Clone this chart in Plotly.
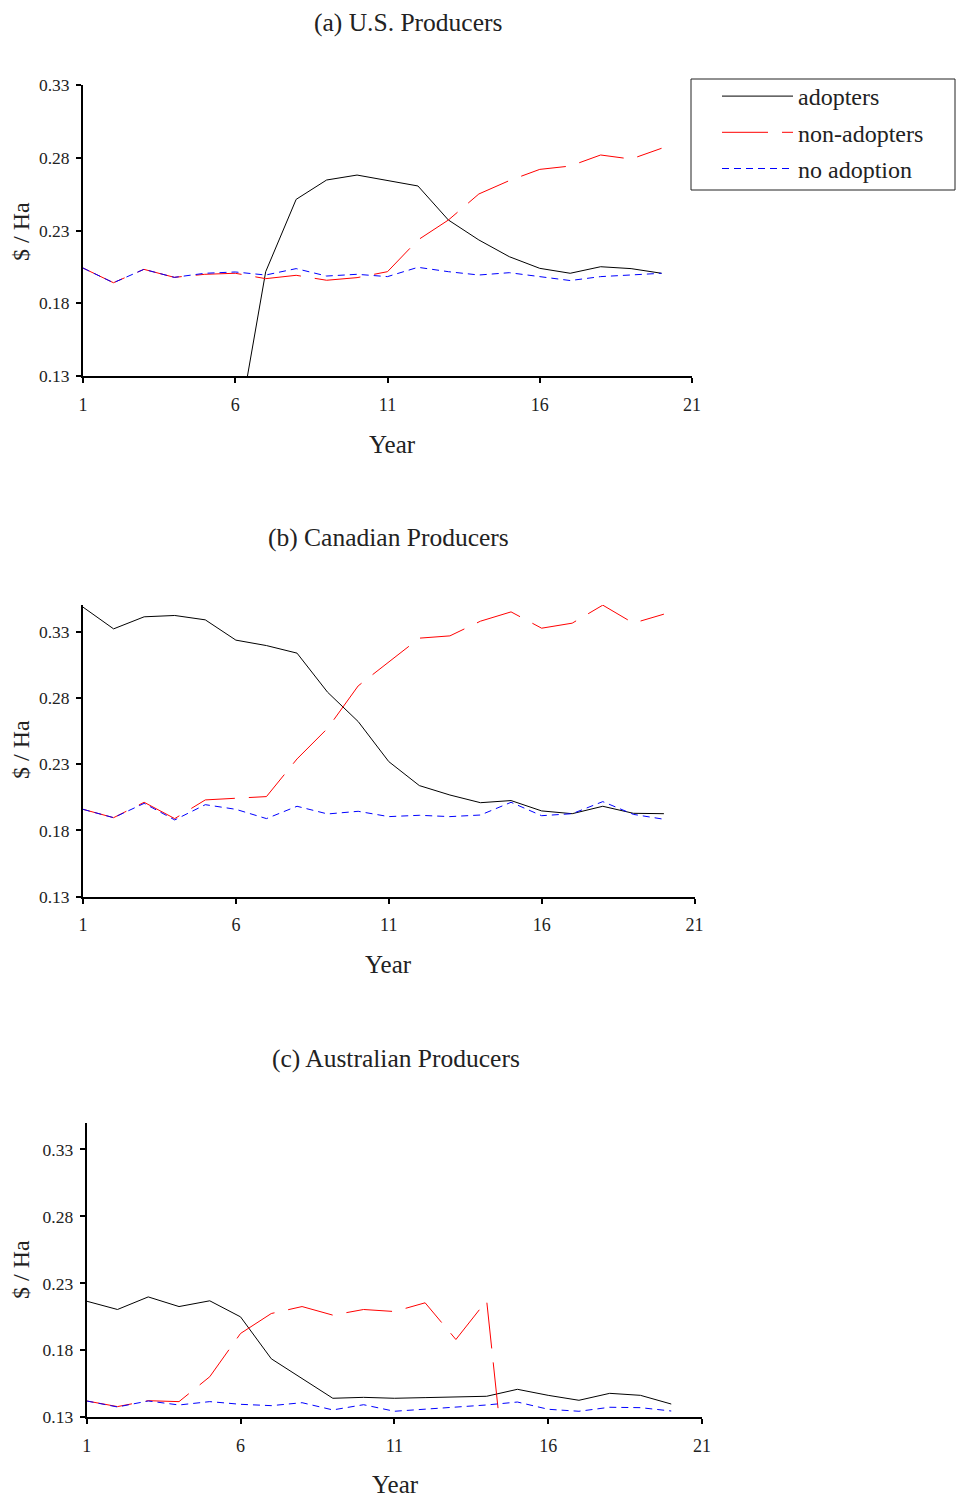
import plotly.graph_objects as go

years = list(range(1, 21))

# (a) U.S. Producers
us_adopters = [None, None, None, None, None, 0.082, 0.2017, 0.2514, 0.2647, 0.2681,
               0.2642, 0.2606, 0.2372, 0.2235, 0.2120, 0.2040, 0.2006, 0.2051, 0.2038, 0.2006]
us_non_adopters = [0.2042, 0.1941, 0.2033, 0.1978, 0.1999, 0.2006, 0.1969, 0.1992, 0.1958, 0.1976,
                   0.2017, 0.2235, 0.2372, 0.2551, 0.2643, 0.2720, 0.2743, 0.2819, 0.2791, 0.2865]
us_no_adoption = [0.2042, 0.1941, 0.2033, 0.1978, 0.2006, 0.2015, 0.1994, 0.2038, 0.1987, 0.1999,
                  0.1983, 0.2047, 0.2017, 0.1994, 0.2010, 0.1983, 0.1956, 0.1983, 0.1994, 0.2006]

# (b) Canadian Producers
ca_adopters = [0.3484, 0.3320, 0.3411, 0.3421, 0.3388, 0.3235, 0.3194, 0.3137, 0.2842, 0.2621,
               0.2319, 0.2138, 0.2067, 0.2009, 0.2025, 0.1947, 0.1926, 0.1982, 0.1929, 0.1926]
ca_non_adopters = [0.1959, 0.1896, 0.2012, 0.1889, 0.2030, 0.2040, 0.2055, 0.2339, 0.2570, 0.2890,
                   0.3070, 0.3250, 0.3267, 0.3378, 0.3448, 0.3325, 0.3363, 0.3499, 0.3363, 0.3431]
ca_no_adoption = [0.1959, 0.1896, 0.2004, 0.1879, 0.1994, 0.1959, 0.1889, 0.1982, 0.1924, 0.1944,
                  0.1904, 0.1914, 0.1904, 0.1916, 0.2012, 0.1911, 0.1926, 0.2017, 0.1921, 0.1884]

# (c) Australian Producers
au_adopters = [0.2167, 0.2105, 0.2199, 0.2127, 0.2170, 0.2050, 0.1737, 0.1591, 0.1442, 0.1449,
               0.1442, 0.1447, 0.1452, 0.1457, 0.1509, 0.1464, 0.1427, 0.1479, 0.1464, 0.1399]
au_non_adopters = [0.1422, 0.1380, 0.1424, 0.1417, 0.1603, 0.1926, 0.2075, 0.2127, 0.2063, 0.2105,
                   0.2090, 0.2155, 0.1881, 0.2172, 0.0, 0.0, 0.0, 0.0, 0.0, 0.0]
au_no_adoption = [0.1422, 0.1377, 0.1422, 0.1392, 0.1417, 0.1397, 0.1387, 0.1409, 0.1355, 0.1394,
                  0.1345, 0.1360, 0.1375, 0.1392, 0.1414, 0.1360, 0.1345, 0.1375, 0.1372, 0.1347]

series_names = ["adopters", "non-adopters", "no adoption"]
panel_titles = ["(a) U.S. Producers", "(b) Canadian Producers", "(c) Australian Producers"]
x_ticks = [1, 6, 11, 16, 21]
y_ticks = [0.13, 0.18, 0.23, 0.28, 0.33]

OFF = 8  # page body margin of the browser
W, H = 964 - 2 * OFF, 1510 - 2 * OFF
FONT = "Liberation Serif"
TXT = "#222222"


def px(v):
    return (v - OFF) / W


def py(v):
    return 1 - (v - OFF) / H


styles = [
    dict(color="#000000", width=1, dash="solid"),
    dict(color="#FF0000", width=1, dash="46px,14px"),
    dict(color="#0000FF", width=1, dash="7px,5px"),
]

panels = [
    dict(data=[us_adopters, us_non_adopters, us_no_adoption], xpx=(83, 692), ypx=(85, 376),
         yr=[0.13, 0.33], title_xy=(408, 22), year_xy=(392, 444), ylab_y=232),
    dict(data=[ca_adopters, ca_non_adopters, ca_no_adoption], xpx=(83, 694.5), ypx=(605, 896.7),
         yr=[0.13, 0.35], title_xy=(388, 537), year_xy=(388, 964), ylab_y=750),
    dict(data=[au_adopters, au_non_adopters, au_no_adoption], xpx=(86.7, 702), ypx=(1122.7, 1417.3),
         yr=[0.13, 0.35], title_xy=(396, 1058), year_xy=(395, 1484), ylab_y=1270),
]

fig = go.Figure()
annotations = []
layout_axes = {}
for i, p in enumerate(panels):
    sfx = "" if i == 0 else str(i + 1)
    for j, (vals, st) in enumerate(zip(p["data"], styles)):
        fig.add_trace(go.Scatter(
            x=years, y=vals, mode="lines", name=series_names[j],
            line=st, xaxis="x" + sfx, yaxis="y" + sfx,
            showlegend=(i == 0), legendgroup=series_names[j],
        ))
    x0, x1 = p["xpx"]
    yt, yb = p["ypx"]
    layout_axes["xaxis" + sfx] = dict(
        domain=[px(x0), px(x1)], anchor="y" + sfx, range=[1, 21],
        tickvals=x_ticks, showgrid=False, zeroline=False, automargin=False,
        showline=True, linecolor="black", linewidth=2,
        ticks="outside", ticklen=5, tickwidth=2, tickcolor="black",
        ticklabelstandoff=6,
        tickfont=dict(family=FONT, size=18, color=TXT),
    )
    layout_axes["yaxis" + sfx] = dict(
        domain=[py(yb), py(yt)], anchor="x" + sfx, range=p["yr"],
        tickvals=y_ticks, tickformat=".2f", showgrid=False, zeroline=False, automargin=False,
        showline=True, linecolor="black", linewidth=2,
        ticks="outside", ticklen=5, tickwidth=2, tickcolor="black",
        ticklabelstandoff=3,
        tickfont=dict(family=FONT, size=17.5, color=TXT),
    )
    tx, ty = p["title_xy"]
    annotations.append(dict(text=panel_titles[i], x=px(tx), y=py(ty), xref="paper", yref="paper",
                            showarrow=False, xanchor="center", yanchor="middle",
                            font=dict(family=FONT, size=25.5, color=TXT)))
    yx, yy = p["year_xy"]
    annotations.append(dict(text="Year", x=px(yx), y=py(yy), xref="paper", yref="paper",
                            showarrow=False, xanchor="center", yanchor="middle",
                            font=dict(family=FONT, size=25, color=TXT)))
    annotations.append(dict(text="$ / Ha", x=px(21), y=py(p["ylab_y"]), xref="paper", yref="paper",
                            showarrow=False, xanchor="center", yanchor="middle", textangle=-90,
                            font=dict(family=FONT, size=24, color=TXT)))

# legend frame (decoration)
shapes = [dict(type="rect", xref="paper", yref="paper",
               x0=px(691), x1=px(955), y0=py(190), y1=py(79),
               line=dict(color="#222222", width=1), fillcolor="rgba(0,0,0,0)", layer="above")]

fig.update_layout(
    width=W, height=H,
    margin=dict(l=0, r=0, t=0, b=0, pad=0, autoexpand=False),
    paper_bgcolor="white", plot_bgcolor="white",
    annotations=annotations,
    shapes=shapes,
    legend=dict(
        x=px(692), y=py(74), xanchor="left", yanchor="top",
        borderwidth=0, bgcolor="rgba(0,0,0,0)",
        font=dict(family=FONT, size=24, color=TXT),
        traceorder="grouped", tracegroupgap=2, itemwidth=71, indentation=25,
    ),
    **layout_axes,
)

fig.write_html("out.html")
